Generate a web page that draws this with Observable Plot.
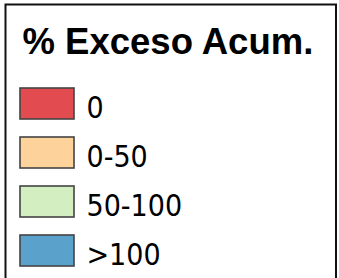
<!DOCTYPE html>
<html>
<head>
<meta charset="utf-8">
<script src="https://cdn.jsdelivr.net/npm/d3@7"></script>
<script src="https://cdn.jsdelivr.net/npm/@observablehq/plot@0.6"></script>
<style>
  html, body { margin: 0; padding: 0; background: #fff; }
  #chart svg { overflow: hidden; display: block; }
</style>
</head>
<body>
<div id="chart"></div>
<script>
const title = "% Exceso Acum.";
const labels = ["0", "0-50", "50-100", ">100"];
const colors = ["#e24b4f", "#fdd39b", "#d3efc1", "#5aa1cb"];

const data = labels.map((label, i) => ({label, color: colors[i]}));

const chart = Plot.plot({
  width: 339,
  height: 278,
  marginLeft: 5,
  marginTop: 4,
  marginRight: 3.5,
  marginBottom: -20,
  style: {background: "#fff", overflow: "hidden"},
  x: {type: "band", domain: ["swatch"], range: [20, 74], padding: 0, axis: null},
  y: {type: "band", domain: labels, range: [87, 266], paddingInner: 0.372, paddingOuter: 0, axis: null},
  color: {type: "identity"},
  marks: [
    Plot.frame({stroke: "#111", strokeWidth: 2, fill: "none"}),
    Plot.text([title], {
      frameAnchor: "top-left", textAnchor: "start", lineAnchor: "bottom",
      dx: 17, dy: 49, fontSize: 36.5, fontWeight: "bold",
      fontFamily: "Liberation Sans, Arial, sans-serif", fill: "#000"
    }),
    Plot.cell(data, {
      x: () => "swatch", y: "label", fill: "color",
      stroke: "#444", strokeWidth: 1.6
    }),
    Plot.text(data, {
      x: () => "swatch", y: "label", text: "label",
      textAnchor: "start", lineAnchor: "middle",
      dx: 39, dy: 4.5, fontSize: 30,
      fontFamily: "DejaVu Sans Condensed, DejaVu Sans, sans-serif",
      fontStretch: "condensed", fill: "#000"
    })
  ]
});
document.getElementById("chart").appendChild(chart);
</script>
</body>
</html>
